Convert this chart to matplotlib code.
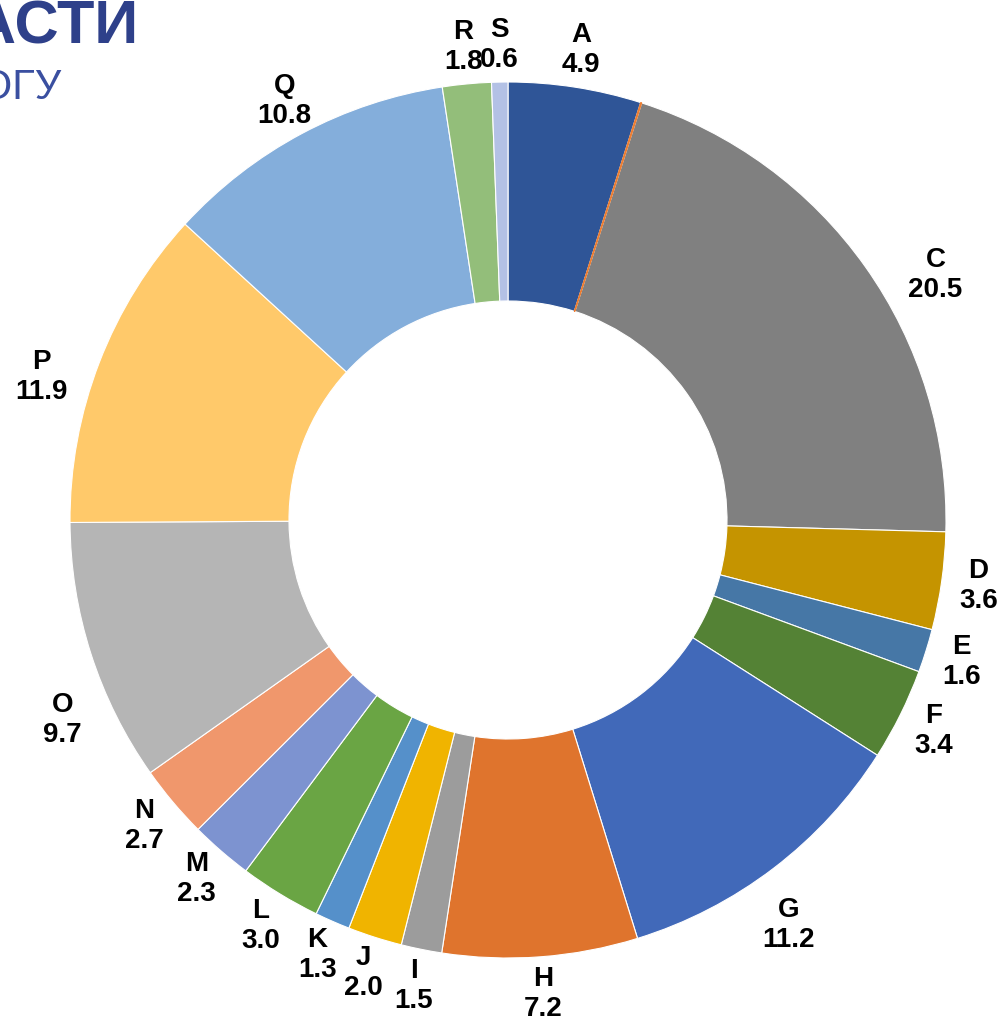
import numpy as np
import matplotlib.pyplot as plt

# sector shares, %
labels = ["A", "B", "C", "D", "E", "F", "G", "H", "I", "J",
          "K", "L", "M", "N", "O", "P", "Q", "R", "S"]
values = [4.9, 0.04, 20.5, 3.6, 1.6, 3.4, 11.2, 7.2, 1.5, 2.0,
          1.3, 3.0, 2.3, 2.7, 9.7, 11.9, 10.8, 1.8, 0.6]
show_label = [l != "B" for l in labels]
colors = ["#2F5597", "#ED7D31", "#808080", "#C59400", "#4677A6", "#548235",
          "#4169B9", "#DF742D", "#9C9C9C", "#F0B400", "#5590CA", "#6AA544",
          "#7D93D0", "#F0976C", "#B5B5B5", "#FFC96A", "#84AEDB", "#93BE7A",
          "#B3C1E5"]

# labels that were dragged off their mid-angle in the original: (deg shift, radius)
label_nudge = {"C": (5.5, 1.125), "G": (2.6, 1.125), "O": (-6.4, 1.115),
               "P": (-4.0, 1.115)}

W, H = 1001, 1025
fig = plt.figure(figsize=(W / 100, H / 100), dpi=100)
cx, cy, R = 508, 520, 438
ax = fig.add_axes([(cx - R) / W, (H - cy - R) / H, 2 * R / W, 2 * R / H])

wedges, _ = ax.pie(values, colors=colors, startangle=90, counterclock=False,
                   radius=1.0,
                   wedgeprops=dict(width=0.5, edgecolor="white", linewidth=0.8))
# the near-zero B slice shows as a thin orange line
wedges[1].set_edgecolor(colors[1])
wedges[1].set_zorder(3)
ax.set_xlim(-1, 1)
ax.set_ylim(-1, 1)
ax.set_aspect("equal")
ax.axis("off")

# labels at mid-angle, just outside the ring
cum = np.cumsum(values)
total = cum[-1]
for lab, v, c, show in zip(labels, values, cum, show_label):
    if not show:
        continue
    mid = (c - v / 2) / total * 360
    r = 1.085
    if lab in label_nudge:
        d, r = label_nudge[lab]
        mid += d
    a = np.deg2rad(mid)
    x, y = r * np.sin(a), r * np.cos(a)
    ax.text(x, y, f"{lab}\n{v:.1f}", ha="center", va="center",
            fontsize=20, fontweight="bold", family="Liberation Sans",
            linespacing=1.2, color="black")

# cropped heading in the corner
fig.text(139 / W, 1 - 44 / H, "ОБЛАСТИ", ha="right", va="baseline",
         fontsize=44, fontweight="bold", family="Liberation Sans", color="#2E408A")
fig.text(61 / W, 1 - 99 / H, "ПО ОГУ", ha="right", va="baseline",
         fontsize=30, family="Liberation Sans", color="#3A4FA0")

fig.savefig("out.png", dpi=100)
